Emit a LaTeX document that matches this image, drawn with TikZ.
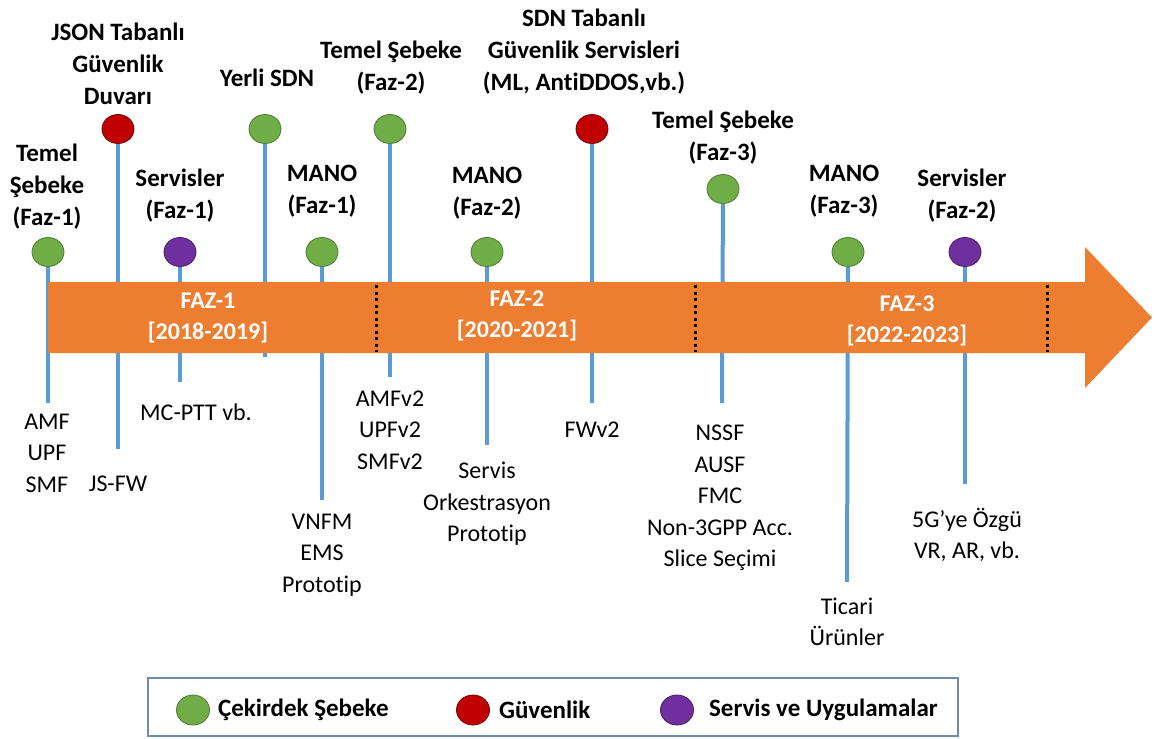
\documentclass[tikz,border=0pt]{standalone}
\usepackage{fontspec}
\setmainfont{Carlito}[Ligatures=NoCommon]
\usetikzlibrary{shapes.geometric,positioning}
\definecolor{barorange}{RGB}{237,125,49}
\definecolor{stemblue}{RGB}{91,155,213}
\definecolor{coregreen}{RGB}{112,173,71}
\definecolor{secred}{RGB}{192,0,0}
\definecolor{srvpurple}{RGB}{112,48,160}
\definecolor{legframe}{RGB}{110,140,175}

\begin{document}
\begin{tikzpicture}[x=1pt,y=1pt,yscale=-1,
	stem/.style={draw=stemblue,line width=4pt},
	pin/.style={ellipse,minimum width=32pt,minimum height=29pt,inner sep=0pt,line width=0.8pt},
	core/.style={pin,fill=coregreen,draw=coregreen!70!black},
	sec/.style={pin,fill=secred,draw=secred!60!black},
	srv/.style={pin,fill=srvpurple,draw=srvpurple!60!black},
	toplbl/.style={align=center,inner sep=0pt,font=\fontsize{25}{32}\selectfont\bfseries},
	botlbl/.style={align=center,inner sep=0pt,font=\fontsize{24}{31.5}\selectfont},
	phase/.style={align=center,inner sep=0pt,text=white,font=\fontsize{24}{31}\selectfont\bfseries},
	sep/.style={line width=3pt,dash pattern=on 3pt off 3.5pt},
	legtxt/.style={anchor=west,inner sep=0pt,font=\fontsize{25}{30}\selectfont\bfseries}]
	\useasboundingbox (0,0) rectangle (1155,738);
	\node[core] (c1) at (48,252) {};
	\node[sec] (c2) at (118,129) {};
	\node[srv] (c3) at (180,252) {};
	\node[core] (c4) at (265,129) {};
	\node[core] (c5) at (322,252) {};
	\node[core] (c6) at (390,129) {};
	\node[core] (c7) at (487,252) {};
	\node[sec] (c8) at (592,129) {};
	\node[core] (c9) at (723,189) {};
	\node[core] (c10) at (848,252) {};
	\node[srv] (c11) at (965,252) {};
	\coordinate (e1) at (48,403);
	\coordinate (e2) at (118,449);
	\coordinate (e3) at (180,382);
	\coordinate (e4) at (265,357);
	\coordinate (e5) at (322,500);
	\coordinate (e6) at (390,377);
	\coordinate (e7) at (487,445);
	\coordinate (e8) at (592,403);
	\coordinate (e9) at (722,403);
	\coordinate (e10) at (847,582);
	\coordinate (e11) at (965,484);
	\foreach \i in {1,...,11} {\draw[stem] (c\i) -- (e\i);}
	\fill[barorange] (48,282) -- (1085,282) -- (1085,247) -- (1152,317.5) -- (1085,388) -- (1085,353) -- (48,353) -- cycle;
	\draw[sep] (376,285) -- (376,352);
	\draw[sep] (695,285) -- (695,352);
	\draw[sep] (1047,285) -- (1047,352);
	\node[phase] (f1) at (208,318) {FAZ-1\\{}[2018-2019]};
	\node[phase] (f2) at (517,316) {FAZ-2\\{}[2020-2021]};
	\node[phase] (f3) at (907,321) {FAZ-3\\{}[2022-2023]};
	\node[toplbl] (t1) at (47,187) {Temel\\Şebeke\\(Faz-1)};
	\node[toplbl] (t2) at (118,64) {JSON Tabanlı\\Güvenlik\\Duvarı};
	\node[toplbl] (t3) at (180,196) {Servisler\\(Faz-1)};
	\node[toplbl] (t4) at (267,78) {Yerli SDN};
	\node[toplbl] (t5) at (322,191) {MANO\\(Faz-1)};
	\node[toplbl] (t6) at (391,68) {Temel Şebeke\\(Faz-2)};
	\node[toplbl] (t7) at (487,193) {MANO\\(Faz-2)};
	\node[toplbl] (t8) at (584,52) {SDN Tabanlı\\Güvenlik Servisleri\\(ML, AntiDDOS,vb.)};
	\node[toplbl] (t9) at (723,138) {Temel Şebeke\\(Faz-3)};
	\node[toplbl] (t10) at (844,191) {MANO\\(Faz-3)};
	\node[toplbl] (t11) at (962,196) {Servisler\\(Faz-2)};
	\node[botlbl] (b1) at (47,453) {AMF\\UPF\\SMF};
	\node[botlbl] (b2) at (118,484) {JS-FW};
	\node[botlbl] (b3) at (196,412) {MC-PTT vb.};
	\node[botlbl] (b5) at (322,555) {VNFM\\EMS\\Prototip};
	\node[botlbl] (b6) at (390,430) {AMFv2\\UPFv2\\SMFv2};
	\node[botlbl] (b7) at (487,504) {Servis\\Orkestrasyon\\Prototip};
	\node[botlbl] (b8) at (592,430) {FWv2};
	\node[botlbl] (b9) at (720,498) {NSSF\\AUSF\\FMC\\Non-3GPP Acc.\\Slice Seçimi};
	\node[botlbl] (b10) at (847,622) {Ticari\\Ürünler};
	\node[botlbl] (b11) at (967,535) {5G’ye Özgü\\VR, AR, vb.};
	\draw[legframe,line width=2pt] (148,678) rectangle (958,736);
	\node[core,minimum width=33pt,minimum height=30pt] (lg1) at (193,710) {};
	\node[sec,minimum width=33pt,minimum height=30pt] (lg2) at (473,710) {};
	\node[srv,minimum width=33pt,minimum height=30pt] (lg3) at (677,710) {};
	\node[legtxt,right=8pt of lg1] (lt1) {Çekirdek Şebeke};
	\node[legtxt,right=9pt of lg2] (lt2) {Güvenlik};
	\node[legtxt,right=15pt of lg3] (lt3) {Servis ve Uygulamalar};
\end{tikzpicture}
\end{document}
